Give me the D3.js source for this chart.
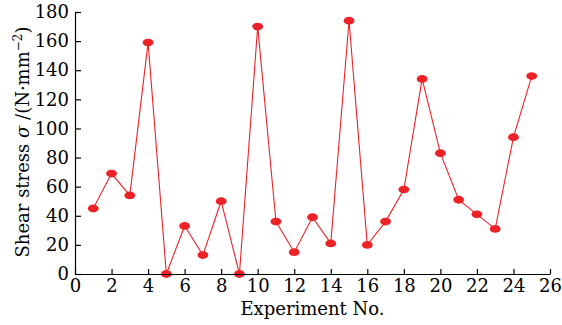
<!DOCTYPE html>
<html>
<head>
<meta charset="utf-8">
<script src="https://cdn.jsdelivr.net/npm/d3@7.9.0/dist/d3.min.js"></script>
<style>
  body { margin: 0; background: #fff; }
  svg { display: block; }
  text { font-family: "DejaVu Serif", "Liberation Serif", serif; }
</style>
</head>
<body>
<svg id="chart" width="562" height="325"></svg>
<script>
// experiment numbers and measured shear stress
const experiments = d3.range(1, 26);
const shearStress = [45, 69, 54, 159, 0, 33, 13, 50, 0, 170, 36, 15, 39, 21, 174,
                     20, 36, 58, 134, 83, 51, 41, 31, 94, 136];
const xTicks = d3.range(0, 27, 2);
const yTicks = d3.range(0, 181, 20);

const data = experiments.map((e, i) => ({ x: e, y: shearStress[i] }));

const margin = { left: 75, right: 12, top: 12, bottom: 51 };
const width = 562, height = 325;

const svg = d3.select('#chart');

const x = d3.scaleLinear().domain([0, 26]).range([margin.left, width - margin.right]);
const y = d3.scaleLinear().domain([0, 180]).range([height - margin.bottom, margin.top]);

const red = '#ec2227';

// line
svg.append('path')
    .datum(data)
    .attr('fill', 'none')
    .attr('stroke', red)
    .attr('stroke-width', 1.1)
    .attr('d', d3.line().x(d => x(d.x)).y(d => y(d.y)));

// markers
svg.append('g')
    .selectAll('ellipse')
    .data(data)
    .join('ellipse')
    .attr('cx', d => x(d.x))
    .attr('cy', d => y(d.y))
    .attr('rx', 5.4)
    .attr('ry', 3.9)
    .attr('fill', red);

// axes
const xAxis = svg.append('g')
    .attr('transform', `translate(0,${y(0)})`)
    .call(d3.axisBottom(x).tickValues(xTicks).tickSize(-5).tickSizeOuter(0).tickPadding(5));

const yAxis = svg.append('g')
    .attr('transform', `translate(${x(0)},0)`)
    .call(d3.axisLeft(y).tickValues(yTicks).tickSize(-6).tickSizeOuter(0).tickPadding(6));

[xAxis, yAxis].forEach(g => {
    g.selectAll('text')
        .attr('font-family', '"DejaVu Serif", serif')
        .attr('font-size', 18)
        .attr('fill', '#000');
    g.selectAll('line, path').attr('stroke', '#000').attr('stroke-width', 1.2);
});

// axis titles
svg.append('text')
    .attr('x', (x(0) + x(26)) / 2)
    .attr('y', 315)
    .attr('text-anchor', 'middle')
    .attr('font-size', 18)
    .text('Experiment No.');

const yLabel = svg.append('text')
    .attr('transform', 'translate(29,142) rotate(-90)')
    .attr('text-anchor', 'middle')
    .attr('font-size', 18);
yLabel.append('tspan').text('Shear stress ');
yLabel.append('tspan').attr('font-style', 'italic').text('σ');
yLabel.append('tspan').text(' /(N·mm');
yLabel.append('tspan').attr('font-size', 12).attr('dy', -7).text('−2');
yLabel.append('tspan').attr('dy', 7).text(')');
</script>
</body>
</html>
